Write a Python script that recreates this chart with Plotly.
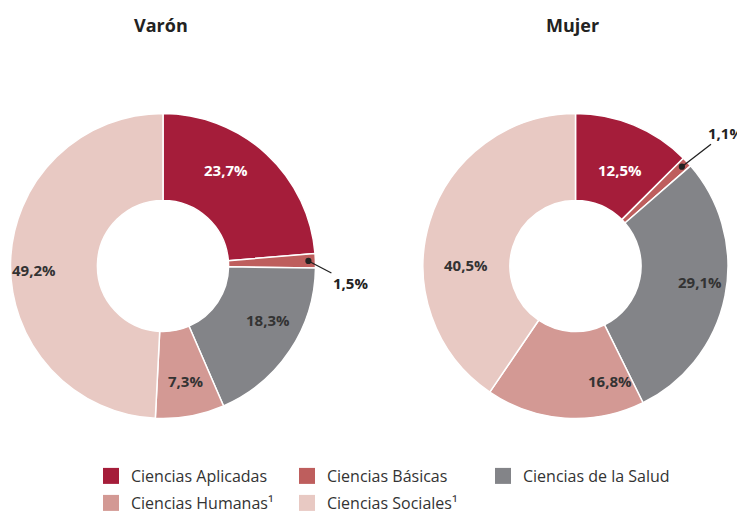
import math
import plotly.graph_objects as go

categories = ["Ciencias Aplicadas", "Ciencias Básicas", "Ciencias de la Salud",
              "Ciencias Humanas¹", "Ciencias Sociales¹"]
varon = [23.7, 1.5, 18.3, 7.3, 49.2]
mujer = [12.5, 1.1, 29.1, 16.8, 40.5]
titles = ["Varón", "Mujer"]

colors = ["#A51D3A", "#BE5E5D", "#838488", "#D39994", "#E8C9C3"]
txt_colors = ["#FFFFFF", "#333333", "#333333", "#333333", "#333333"]
FONT = "Open Sans"

W, H = 745, 514
R = 152.5
# layout in figure pixels (page adds an 8px body offset)
centers = [(155, 258), (567.5, 258)]
title_x = [152.5, 564]
title_y = 17
# label placement (pixel offsets from each donut's centre); None = leader label
label_offsets = [
    [(63, -96), None, (105, 54), (22, 115), (-129, 4)],
    [(44.5, -96), None, (124.5, 16), (34.5, 115), (-109.5, -1)],
]
leader_offsets = [(42, 22), (44, -34)]

def fmt(v):
    return ("%.1f" % v).replace(".", ",") + "%"

fig = go.Figure()
annotations = []
for k, (vals, (cx, cy)) in enumerate(zip([varon, mujer], centers)):
    fig.add_trace(go.Pie(
        labels=categories, values=vals, sort=False, direction="clockwise",
        rotation=0, hole=0.43,
        marker=dict(colors=colors, line=dict(color="white", width=1.5)),
        textinfo="none", hoverinfo="label+value",
        domain=dict(x=[(cx - R) / W, (cx + R) / W],
                    y=[(H - cy - R) / H, (H - cy + R) / H]),
        showlegend=False,
    ))
    annotations.append(dict(
        x=title_x[k] / W, y=1 - title_y / H, xref="paper", yref="paper",
        xanchor="center", yanchor="middle", text="<b>%s</b>" % titles[k],
        showarrow=False, font=dict(size=18, family=FONT, color="#222222")))
    total = sum(vals)
    cum = 0
    for i, v in enumerate(vals):
        off = label_offsets[k][i]
        if off is not None:
            annotations.append(dict(
                x=(cx + off[0]) / W, y=1 - (cy + off[1]) / H, xref="paper", yref="paper",
                xanchor="center", yanchor="middle", text="<b>%s</b>" % fmt(v),
                showarrow=False, font=dict(size=15, family=FONT, color=txt_colors[i])))
        else:
            mid = (cum + v / 2) / total * 2 * math.pi
            rd = R - 7
            px = cx + rd * math.sin(mid)
            py = cy - rd * math.cos(mid)
            ax, ay = leader_offsets[k]
            annotations.append(dict(
                x=px / W, y=1 - py / H, xref="paper", yref="paper",
                text="<b>%s</b>" % fmt(v), showarrow=True,
                arrowhead=6, arrowsize=1.2, arrowwidth=1.3, arrowcolor="#222222",
                ax=ax, ay=ay, standoff=0,
                font=dict(size=15, family=FONT, color="#222222")))
        cum += v

# legend entries (square swatches), two rows
for i, (name, col) in enumerate(zip(categories, colors)):
    fig.add_trace(go.Scatter(
        x=[None], y=[None], mode="markers", name=name,
        marker=dict(symbol="square", size=16, color=col),
        legend="legend" if i < 3 else "legend2", hoverinfo="skip"))

leg_common = dict(orientation="h", xanchor="left", yanchor="middle",
                  entrywidth=151, entrywidthmode="pixels", traceorder="normal",
                  font=dict(size=16, family=FONT, color="#333333"),
                  itemclick=False, itemdoubleclick=False, bgcolor="rgba(0,0,0,0)")

fig.update_layout(
    width=W, height=H,
    margin=dict(l=0, r=0, t=0, b=0, autoexpand=False),
    paper_bgcolor="white", plot_bgcolor="white",
    annotations=annotations,
    xaxis=dict(visible=False), yaxis=dict(visible=False),
    legend=dict(x=83 / W, y=1 - 468 / H, **leg_common),
    legend2=dict(x=83 / W, y=1 - 495 / H, **leg_common),
)

fig.write_html("out.html")
